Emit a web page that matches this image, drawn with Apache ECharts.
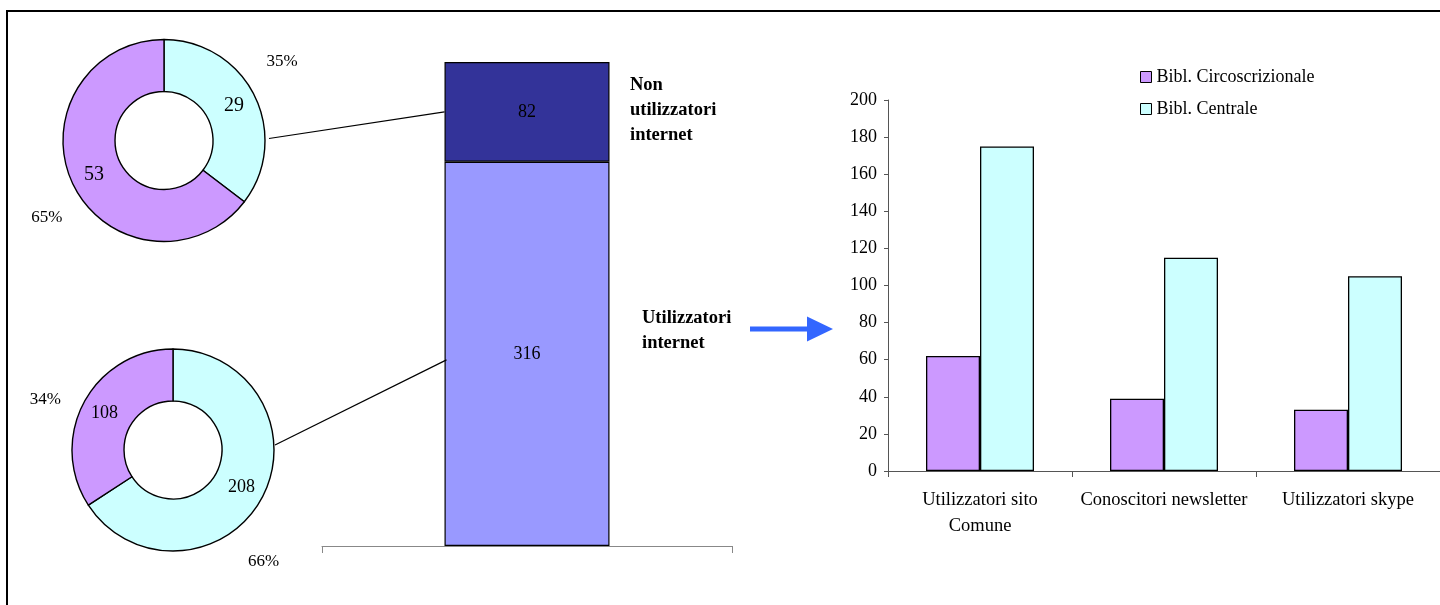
<!DOCTYPE html>
<html>
<head>
<meta charset="utf-8">
<script src="https://cdn.jsdelivr.net/npm/echarts@6/dist/echarts.min.js"></script>
<style>
  html, body { margin: 0; padding: 0; background: #fff; }
  #chart { width: 1440px; height: 605px; }
</style>
</head>
<body>
<div id="chart"></div>
<script>
// ---- data ----
const libraryNames = ['Bibl. Circoscrizionale', 'Bibl. Centrale'];
const groupNames = ['Utilizzatori internet', 'Non utilizzatori internet'];
const groupTotals = [316, 82];                 // users, non-users
const nonUsersByLibrary = [53, 29];            // [Circoscrizionale, Centrale]
const usersByLibrary = [108, 208];             // [Circoscrizionale, Centrale]
const serviceCategories = ['Utilizzatori sito\nComune', 'Conoscitori newsletter', 'Utilizzatori skype'];
const circoscrizionaleValues = [62, 39, 33];
const centraleValues = [175, 115, 105];
const serviceAxis = { min: 0, max: 200, interval: 20 };

// ---- styles / layout ----
const FONT = '"Liberation Serif", "Times New Roman", serif';
const COL = {
  circ: '#CC99FF', cent: '#CCFFFF',
  users: '#9999FF', nonUsers: '#333399',
  arrow: '#3366FF', axis: '#555555', axisLight: '#888888'
};
const R_IN = 49, R_OUT = 101;
const TOP_DONUT = [164, 140.5];
const BOTTOM_DONUT = [173, 450];
const STACK_BAR_W = 165;

function donut(center, values, valueFont, pctOffsets) {
  // values: [Circoscrizionale, Centrale]; drawn clockwise from 12 o'clock, Centrale first
  const data = [
    { name: libraryNames[1], value: values[1], itemStyle: { color: COL.cent } },
    { name: libraryNames[0], value: values[0], itemStyle: { color: COL.circ } }
  ];
  return [
    {
      type: 'pie', center: center, radius: [R_IN, R_OUT], startAngle: 90, clockwise: true,
      silent: true, animation: false,
      itemStyle: { borderColor: '#000', borderWidth: 1.4 },
      label: { show: true, position: 'inside', formatter: '{c}', color: '#000',
               fontFamily: FONT, fontSize: valueFont },
      labelLine: { show: false },
      emphasis: { disabled: true },
      data: data
    },
    {
      // invisible ring carrying the percentage labels
      type: 'pie', center: center, radius: [130, 150], startAngle: 90, clockwise: true,
      silent: true, animation: false, percentPrecision: 0,
      itemStyle: { color: 'rgba(0,0,0,0)', borderWidth: 0 },
      label: { show: true, position: 'inside', formatter: '{d}%', color: '#000',
               fontFamily: FONT, fontSize: 17 },
      labelLine: { show: false },
      emphasis: { disabled: true },
      data: data.map((d, i) => ({ name: d.name, value: d.value,
                                   itemStyle: { color: 'rgba(0,0,0,0)' },
                                   label: { offset: pctOffsets[i] } }))
    }
  ];
}

const chart = echarts.init(document.getElementById('chart'), null, { renderer: 'canvas' });

const option = {
  animation: false,
  backgroundColor: '#fff',
  textStyle: { fontFamily: FONT },
  legend: {
    orient: 'vertical', left: 1135, top: 62,
    itemWidth: 11, itemHeight: 11, itemGap: 12, icon: 'rect',
    data: libraryNames, selectedMode: false,
    itemStyle: { borderColor: '#000', borderWidth: 1 },
    textStyle: { fontFamily: FONT, fontSize: 18, color: '#000', lineHeight: 20 }
  },
  grid: [
    { left: 322, top: 62, width: 410, height: 484, containLabel: false },
    { left: 888, top: 100, width: 564, height: 371, containLabel: false }
  ],
  xAxis: [
    {
      gridIndex: 0, type: 'category', data: [''],
      axisLine: { lineStyle: { color: COL.axisLight, width: 1 } },
      axisTick: { show: true, length: 7, lineStyle: { color: COL.axisLight } },
      axisLabel: { show: false }
    },
    {
      gridIndex: 1, type: 'category', data: serviceCategories,
      axisLine: { lineStyle: { color: COL.axis, width: 1 } },
      axisTick: { show: true, interval: 0, length: 6, lineStyle: { color: COL.axis } },
      axisLabel: { interval: 0, hideOverlap: false, color: '#000', fontFamily: FONT,
                   fontSize: 18.5, lineHeight: 26, margin: 16 }
    }
  ],
  yAxis: [
    {
      gridIndex: 0, type: 'value', min: 0, max: groupTotals[0] + groupTotals[1],
      show: false, splitLine: { show: false }
    },
    {
      gridIndex: 1, type: 'value',
      min: serviceAxis.min, max: serviceAxis.max, interval: serviceAxis.interval,
      axisLine: { show: true, lineStyle: { color: COL.axis, width: 1 } },
      axisTick: { show: true, length: 4, lineStyle: { color: COL.axis } },
      splitLine: { show: false },
      axisLabel: { color: '#000', fontFamily: FONT, fontSize: 18, margin: 11 }
    }
  ],
  series: [
    {
      type: 'bar', name: libraryNames[0], xAxisIndex: 1, yAxisIndex: 1,
      data: circoscrizionaleValues, barWidth: 54, barGap: '0%',
      itemStyle: { color: COL.circ, borderColor: '#000', borderWidth: 1.3 }
    },
    {
      type: 'bar', name: libraryNames[1], xAxisIndex: 1, yAxisIndex: 1,
      data: centraleValues, barWidth: 54, barGap: '0%',
      itemStyle: { color: COL.cent, borderColor: '#000', borderWidth: 1.3 }
    },
    {
      type: 'bar', name: groupNames[0], xAxisIndex: 0, yAxisIndex: 0, stack: 'all',
      barWidth: STACK_BAR_W, data: [groupTotals[0]],
      itemStyle: { color: COL.users, borderColor: '#000', borderWidth: 1.2 },
      label: { show: true, position: 'inside', color: '#000', fontFamily: FONT, fontSize: 18 }
    },
    {
      type: 'bar', name: groupNames[1], xAxisIndex: 0, yAxisIndex: 0, stack: 'all',
      barWidth: STACK_BAR_W, data: [groupTotals[1]],
      itemStyle: { color: COL.nonUsers, borderColor: '#000', borderWidth: 1.2 },
      label: { show: true, position: 'inside', color: '#000', fontFamily: FONT, fontSize: 18 }
    },
    ...donut(TOP_DONUT, nonUsersByLibrary, 20, [[-10, -16], [11, 14]]),
    ...donut(BOTTOM_DONUT, usersByLibrary, 18, [[-35, 43], [-2, 18]])
  ]
};

chart.setOption(option);

// connectors from each donut to the matching segment of the stacked bar
const pTop = chart.convertToPixel({ gridIndex: 0 }, [0, groupTotals[0] + groupTotals[1] / 2]);
const pBot = chart.convertToPixel({ gridIndex: 0 }, [0, groupTotals[0] / 2]);
const barLeft = pTop[0] - STACK_BAR_W / 2;

const boldLabel = 'bold 18.5px ' + FONT;

chart.setOption({
  graphic: [
    { type: 'rect', silent: true, z: 0,
      shape: { x: 7, y: 11, width: 1460, height: 620 },
      style: { fill: 'none', stroke: '#000', lineWidth: 2 } },
    { type: 'line', silent: true, z: 5,
      shape: { x1: TOP_DONUT[0] + R_OUT + 4, y1: TOP_DONUT[1] - 2, x2: barLeft, y2: pTop[1] },
      style: { stroke: '#000', lineWidth: 1.2 } },
    { type: 'line', silent: true, z: 5,
      shape: { x1: BOTTOM_DONUT[0] + R_OUT + 1, y1: BOTTOM_DONUT[1] - 5, x2: barLeft + 2, y2: pBot[1] + 6 },
      style: { stroke: '#000', lineWidth: 1.2 } },
    { type: 'text', silent: true, z: 5,
      style: { text: 'Non\nutilizzatori\ninternet', x: 630, y: 72.5, font: boldLabel,
               lineHeight: 25, fill: '#000', verticalAlign: 'top', align: 'left' } },
    { type: 'text', silent: true, z: 5,
      style: { text: 'Utilizzatori\ninternet', x: 642, y: 306, font: boldLabel,
               lineHeight: 25, fill: '#000', verticalAlign: 'top', align: 'left' } },
    { type: 'polygon', silent: true, z: 5,
      shape: { points: [[750, 326.5], [807, 326.5], [807, 316.5], [833, 329],
                        [807, 341.5], [807, 331.5], [750, 331.5]] },
      style: { fill: COL.arrow } }
  ]
});
</script>
</body>
</html>
